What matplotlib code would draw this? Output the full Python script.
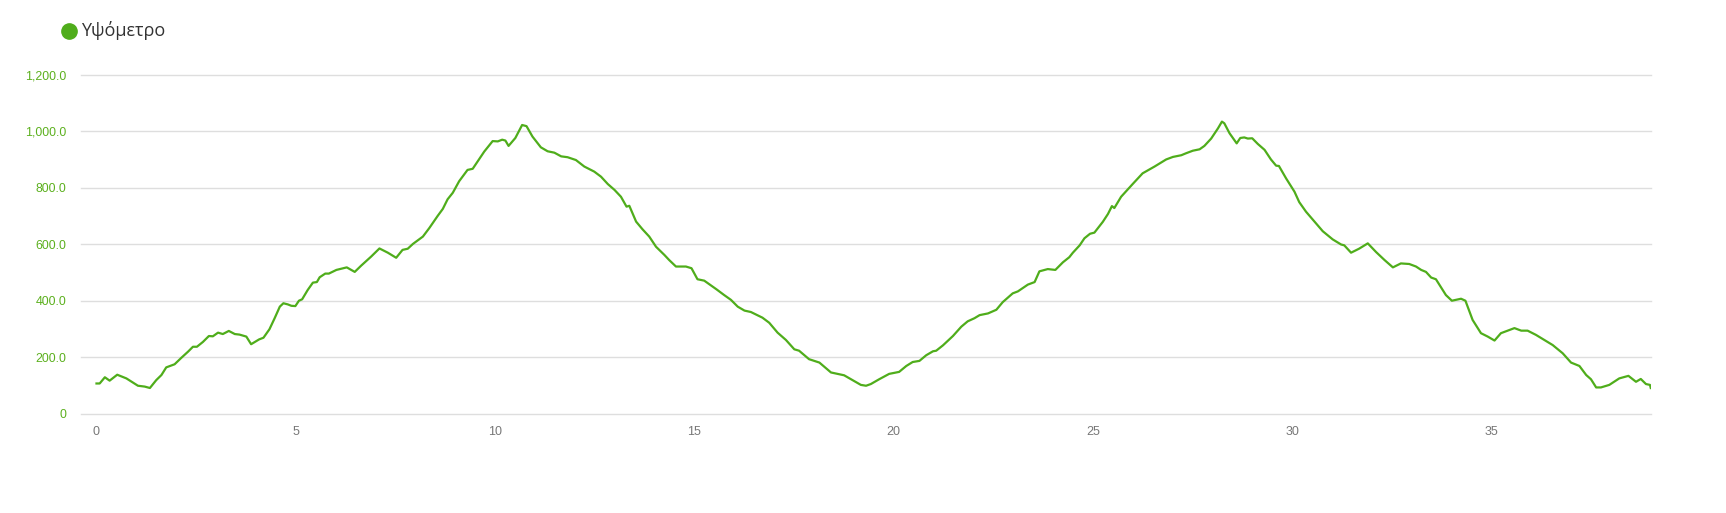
import matplotlib
matplotlib.use("Agg")
import matplotlib.pyplot as plt
from matplotlib.lines import Line2D
from matplotlib.ticker import FuncFormatter

# =========================
# DATA (distance km / elevation m)
# =========================
dist = [0, 0.08, 0.21, 0.33, 0.52, 0.75, 1.04, 1.21, 1.34, 1.5, 1.63, 1.75, 1.96,
        2.13, 2.3, 2.42, 2.52, 2.67, 2.82, 2.92, 3.05, 3.17, 3.32, 3.47, 3.59, 3.76,
        3.88, 4.08, 4.19, 4.34, 4.47, 4.6, 4.69, 4.8, 4.89, 4.99, 5.08, 5.16, 5.3,
        5.43, 5.53, 5.6, 5.74, 5.83, 6.02, 6.28, 6.48, 6.64, 6.89, 7.1, 7.31, 7.52,
        7.68, 7.81, 7.94, 8.19, 8.35, 8.56, 8.69, 8.81, 8.94, 9.1, 9.31, 9.44, 9.56,
        9.73, 9.94, 10.07, 10.18, 10.26, 10.34, 10.51, 10.59, 10.68, 10.79, 10.94,
        11.15, 11.32, 11.49, 11.66, 11.82, 12.03, 12.24, 12.49, 12.66, 12.83, 13.0,
        13.16, 13.3, 13.37, 13.54, 13.7, 13.87, 14.04, 14.25, 14.37, 14.54, 14.79,
        14.93, 15.08, 15.25, 15.56, 15.75, 15.92, 16.09, 16.26, 16.42, 16.71, 16.88,
        17.09, 17.3, 17.51, 17.63, 17.88, 18.14, 18.43, 18.76, 18.97, 19.18, 19.31,
        19.43, 19.64, 19.89, 20.14, 20.32, 20.48, 20.65, 20.82, 20.99, 21.07, 21.24,
        21.49, 21.7, 21.86, 22.03, 22.16, 22.37, 22.58, 22.74, 22.99, 23.12, 23.37,
        23.54, 23.66, 23.87, 24.06, 24.25, 24.41, 24.5, 24.67, 24.79, 24.93, 25.04,
        25.25, 25.38, 25.48, 25.54, 25.71, 26.0, 26.25, 26.55, 26.84, 27.01, 27.22,
        27.34, 27.51, 27.68, 27.8, 27.97, 28.14, 28.24, 28.3, 28.43, 28.61, 28.7,
        28.8, 28.89, 29.0, 29.14, 29.31, 29.47, 29.6, 29.67, 29.85, 30.06, 30.18,
        30.35, 30.52, 30.77, 31.02, 31.23, 31.31, 31.48, 31.68, 31.9, 32.11, 32.32,
        32.53, 32.73, 32.94, 33.11, 33.24, 33.36, 33.49, 33.61, 33.86, 34.01, 34.11,
        34.24, 34.35, 34.53, 34.74, 34.91, 35.08, 35.24, 35.41, 35.58, 35.75, 35.91,
        36.12, 36.33, 36.54, 36.79, 37.0, 37.21, 37.38, 37.5, 37.63, 37.75, 37.96,
        38.21, 38.44, 38.63, 38.75, 38.88, 38.98, 39.0]

elev = [108, 108, 130, 118, 139, 126, 100, 97, 92, 120, 138, 165, 176,
        199, 221, 238, 238, 255, 276, 275, 288, 283, 294, 283, 281, 274,
        247, 264, 270, 300, 339, 380, 392, 388, 383, 382, 401, 406, 439,
        465, 467, 484, 497, 497, 510, 519, 503, 525, 557, 586, 571, 553,
        581, 585, 602, 628, 658, 701, 726, 760, 783, 824, 864, 868, 893,
        929, 966, 965, 971, 968, 949, 977, 999, 1023, 1019, 982,
        944, 930, 925, 912, 909, 899, 876, 858, 840, 814, 793,
        769, 734, 737, 681, 654, 628, 592, 563, 545, 522, 522,
        516, 477, 472, 441, 421, 404, 380, 366, 361, 341, 323,
        288, 262, 229, 224, 194, 182, 147, 137, 120, 103, 100,
        106, 123, 142, 149, 170, 184, 188, 208, 222, 224, 243,
        276, 309, 328, 339, 350, 356, 369, 396, 427, 434, 458,
        467, 505, 513, 510, 537, 555, 571, 597, 622, 638, 642,
        680, 708, 736, 729, 769, 814, 852, 876, 901, 910, 916,
        923, 932, 937, 949, 975, 1011, 1035, 1029, 994, 958, 977,
        979, 975, 976, 956, 935, 901, 879, 878, 834, 787, 750,
        716, 688, 647, 618, 600, 597, 571, 585, 604, 573, 545,
        519, 533, 531, 522, 510, 503, 483, 477, 421, 401, 404,
        408, 401, 333, 286, 274, 260, 286, 295, 304, 295, 295,
        280, 262, 244, 215, 182, 170, 138, 123, 94, 94, 103,
        126, 135, 114, 124, 106, 103, 92]

series_name = "Υψόμετρο"
x_ticks = [0, 5, 10, 15, 20, 25, 30, 35]
y_ticks = [0, 200, 400, 600, 800, 1000, 1200]

GREEN = "#4fad1b"

fig = plt.figure(figsize=(17.26, 5.13), dpi=100)
ax = fig.add_axes([0.0469, 0.193, 0.9095, 0.6608])

# horizontal grid, drawn unclipped so the 0 and 1200 lines show in full
for yv in y_ticks:
    ax.axhline(yv, color="#dedede", linewidth=1, clip_on=False, zorder=0)

ax.plot(dist, elev, color=GREEN, linewidth=1.6, solid_joinstyle="round", zorder=2)

ax.set_xlim(-0.39, 39.0)
ax.set_ylim(0, 1200)
ax.set_yticks(y_ticks)
ax.set_xticks(x_ticks)
ax.yaxis.set_major_formatter(FuncFormatter(lambda v, p: "0" if v == 0 else f"{v:,.1f}"))

for s in ax.spines.values():
    s.set_visible(False)

ax.tick_params(axis="y", length=0, pad=10.5, labelsize=8.9, labelcolor="#5cb01e")
ax.tick_params(axis="x", length=0, pad=8.5, labelsize=9, labelcolor="#777777")
for lab in ax.get_xticklabels() + ax.get_yticklabels():
    lab.set_family("Liberation Sans")

# legend
fig.add_artist(Line2D([69 / 1726], [1 - 31 / 513], marker="o", markersize=11,
                      color=GREEN, linestyle="none", transform=fig.transFigure))
fig.text(81 / 1726, 1 - 31 / 513, series_name, fontsize=13, color="#333333",
         family="Open Sans", va="center", ha="left")

plt.savefig("out.png", dpi=100)
